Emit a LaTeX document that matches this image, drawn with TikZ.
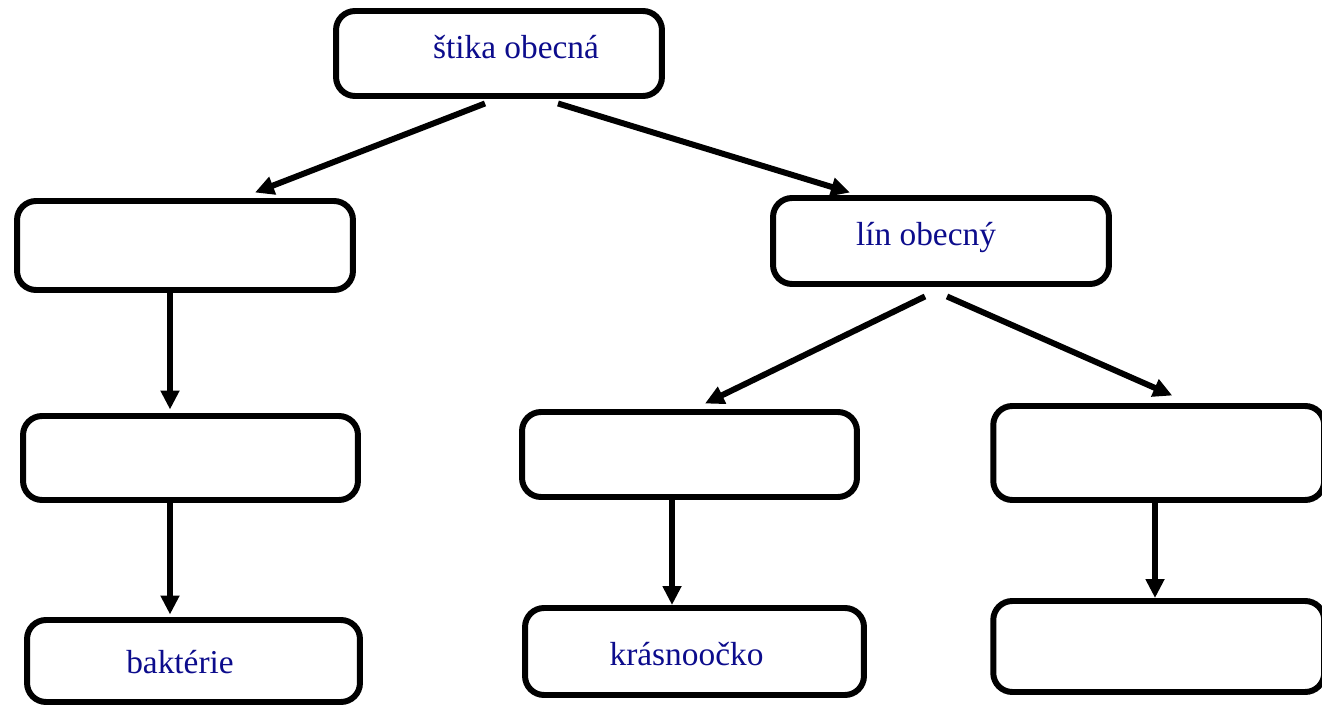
\documentclass[tikz,border=0pt]{standalone}
\usepackage{fontspec}
\setmainfont{Liberation Serif}
\usetikzlibrary{arrows.meta}
\definecolor{txtblue}{RGB}{12,12,140}
\tikzset{
  box/.style = {draw, line width = 3.4pt, rounded corners = .38cm,
    inner sep = 0pt},
  lbl/.style = {anchor = base, text = txtblue, inner sep = 0pt,
    font = \fontsize{19}{22}\selectfont},
  arr/.style = {line width = 3.4pt,
    -{Triangle[length = .38cm, width = .36cm]}}
}
\begin{document}
\begin{tikzpicture}[x = .02cm, y = -.02cm]
    \useasboundingbox (0,0) rectangle (1322,709);
    % boxes
    \node [box, minimum width = 6.52cm, minimum height = 1.70cm] (stika) at (499,53.5) {};
    \node [box, minimum width = 6.72cm, minimum height = 1.78cm] (left1) at (185,245.5) {};
    \node [box, minimum width = 6.72cm, minimum height = 1.72cm] (lin) at (941,241) {};
    \node [box, minimum width = 6.70cm, minimum height = 1.68cm] (left2) at (190.5,458) {};
    \node [box, minimum width = 6.70cm, minimum height = 1.70cm] (mid2) at (689.5,454.5) {};
    \node [box, minimum width = 6.62cm, minimum height = 1.88cm] (right2) at (1158.75,453) {};
    \node [box, minimum width = 6.66cm, minimum height = 1.64cm] (left3) at (193.5,661) {};
    \node [box, minimum width = 6.78cm, minimum height = 1.74cm] (mid3) at (694.5,651.5) {};
    \node [box, minimum width = 6.62cm, minimum height = 1.82cm] (right3) at (1158.75,646.5) {};
    % texts
    \node [lbl] (tstika) at (516,59) {štika obecná};
    \node [lbl] (tlin) at (926,246) {lín obecný};
    \node [lbl] (tbakt) at (180,673) {baktérie};
    \node [lbl] (tkras) at (686.5,665) {krásnoočko};
    % arrows
    \draw [arr] ([xshift = -.28cm, yshift = -.09cm] stika.south) -- ([xshift = 1.4cm, yshift = .11cm] left1.north);
    \draw [arr] ([xshift = 1.18cm, yshift = -.09cm] stika.south) -- ([xshift = -1.82cm, yshift = .05cm] lin.north);
    \draw [arr] ([xshift = -.3cm] left1.south) -- ([xshift = -.41cm, yshift = .07cm] left2.north);
    \draw [arr] ([xshift = -.41cm] left2.south) -- ([xshift = -.47cm, yshift = .05cm] left3.north);
    \draw [arr] ([xshift = -.32cm, yshift = -.19cm] lin.south) -- ([xshift = .31cm, yshift = .11cm] mid2.north);
    \draw [arr] ([xshift = .12cm, yshift = -.19cm] lin.south) -- ([xshift = .27cm, yshift = .15cm] right2.north);
    \draw [arr] ([xshift = -.35cm] mid2.south) -- ([xshift = -.45cm] mid3.north);
    \draw [arr] ([xshift = -.075cm] right2.south) -- ([xshift = -.075cm] right3.north);
  \end{tikzpicture}
\end{document}
